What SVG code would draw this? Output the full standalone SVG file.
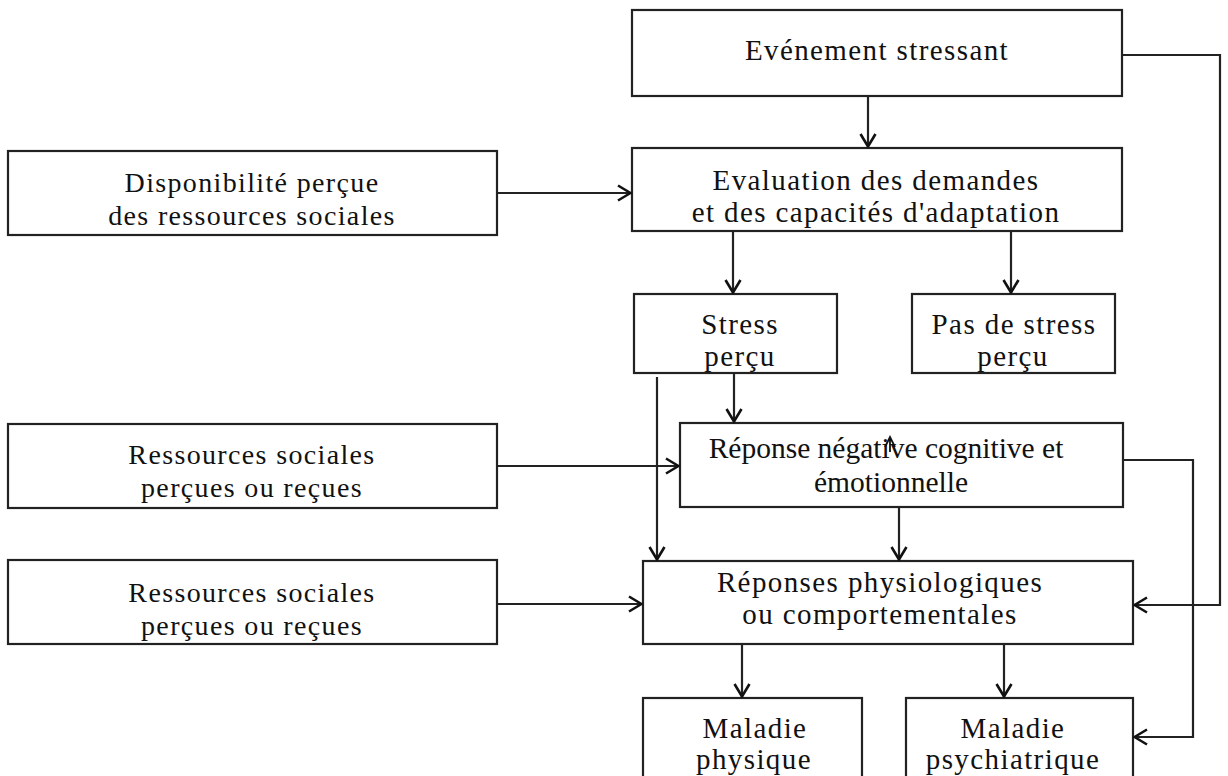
<svg xmlns="http://www.w3.org/2000/svg" width="1228" height="776" viewBox="0 0 1228 776">
<defs>
<style>
.box{fill:#fff;stroke:#222;stroke-width:2.2}
.t{font-family:"Liberation Serif","Times New Roman",serif;font-size:29px;fill:#111;text-anchor:middle}
.sp{letter-spacing:1.4px}
.l{font-size:28px;letter-spacing:1.35px}
.c{fill:none;stroke:#222;stroke-width:2.2}
</style>
<marker id="ar" viewBox="0 0 16 18" refX="15" refY="9" markerWidth="16" markerHeight="18" markerUnits="userSpaceOnUse" orient="auto">
<path d="M2,1.5 L14.5,9 L2,16.5" fill="none" stroke="#111" stroke-width="2.6"/>
</marker>
</defs>
<rect width="1228" height="776" fill="#fff"/>
<g id="n-evenement"><rect class="box" x="632" y="10" width="490" height="86"/><text class="t sp" x="877" y="60">Evénement stressant</text></g>
<g id="n-evaluation"><rect class="box" x="632" y="148" width="490" height="83"/><text class="t sp" x="876" y="190">Evaluation des demandes</text><text class="t sp" x="876" y="222">et des capacités d'adaptation</text></g>
<g id="n-disponibilite"><rect class="box" x="8" y="151" width="489" height="84"/><text class="t l" x="252" y="192">Disponibilité perçue</text><text class="t l" x="252" y="225">des ressources sociales</text></g>
<g id="n-stress"><rect class="box" x="634" y="294" width="203" height="79"/><text class="t sp" x="740" y="334">Stress</text><text class="t sp" x="740" y="366">perçu</text></g>
<g id="n-passtress"><rect class="box" x="912" y="294" width="203" height="79"/><text class="t sp" x="1014" y="334">Pas de stress</text><text class="t sp" x="1013" y="366">perçu</text></g>
<g id="n-ressources1"><rect class="box" x="8" y="424" width="489" height="84"/><text class="t l" x="252" y="464">Ressources sociales</text><text class="t l" x="252" y="497">perçues ou reçues</text></g>
<g id="n-reponse-negative"><rect class="box" x="680" y="423" width="443" height="84"/><text class="t" style="font-size:29.5px" x="886" y="458">Réponse négative cognitive et</text><text class="t" style="font-size:29.5px" x="891" y="492">émotionnelle</text><path d="M885,447 L890,437 L895,447 M890,437 L890,452" fill="none" stroke="#111" stroke-width="1.8"/></g>
<g id="n-ressources2"><rect class="box" x="8" y="560" width="489" height="84"/><text class="t l" x="252" y="602">Ressources sociales</text><text class="t l" x="252" y="635">perçues ou reçues</text></g>
<g id="n-reponses"><rect class="box" x="643" y="561" width="490" height="83"/><text class="t sp" x="880" y="592">Réponses physiologiques</text><text class="t sp" x="880" y="624">ou comportementales</text></g>
<g id="n-maladie-physique"><rect class="box" x="643" y="698" width="219" height="100"/><text class="t sp" x="755" y="738">Maladie</text><text class="t sp" x="754" y="769">physique</text></g>
<g id="n-maladie-psy"><rect class="box" x="906" y="698" width="227" height="100"/><text class="t sp" x="1013" y="738">Maladie</text><text class="t sp" x="1013" y="769">psychiatrique</text></g>
<g id="connectors">
<path class="c" d="M868,96 L868,147" marker-end="url(#ar)"/>
<path class="c" d="M1122,55 L1220,55 L1220,605 L1134,605" marker-end="url(#ar)"/>
<path class="c" d="M497,193 L631,193" marker-end="url(#ar)"/>
<path class="c" d="M733,231 L733,293" marker-end="url(#ar)"/>
<path class="c" d="M1011,231 L1011,293" marker-end="url(#ar)"/>
<path class="c" d="M734,373 L734,422" marker-end="url(#ar)"/>
<path class="c" d="M657,377 L657,560" marker-end="url(#ar)"/>
<path class="c" d="M497,466 L679,466" marker-end="url(#ar)"/>
<path class="c" d="M899,507 L899,560" marker-end="url(#ar)"/>
<path class="c" d="M497,604 L642,604" marker-end="url(#ar)"/>
<path class="c" d="M1123,460 L1193,460 L1193,737 L1134,737" marker-end="url(#ar)"/>
<path class="c" d="M742,644 L742,697" marker-end="url(#ar)"/>
<path class="c" d="M1004,644 L1004,697" marker-end="url(#ar)"/>
</g>
</svg>
